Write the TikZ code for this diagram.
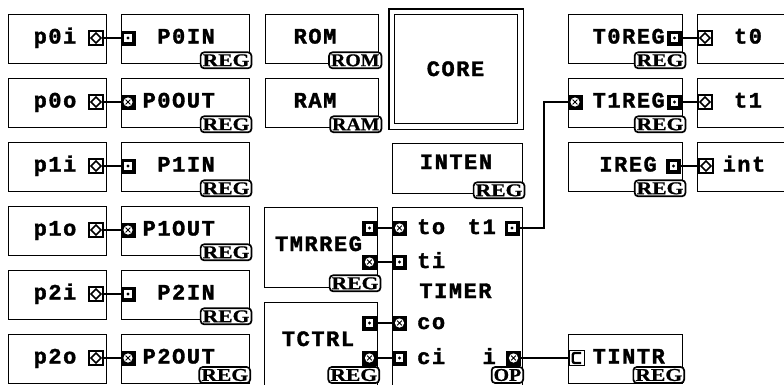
\documentclass[tikz,border=0pt]{standalone}
\usepackage{fontspec}
\usepackage{graphicx}
\newfontfamily\monob[LetterSpace=7, BoldFeatures={FakeBold=1.6}]{Liberation Mono}
\newfontfamily\serifb[BoldFeatures={FakeBold=0.8}]{Liberation Serif}
\tikzset{
  box/.style={draw, line width=1.3pt, anchor=north west, inner sep=0pt, fill=white},
  lbl/.style={font=\monob\bfseries\fontsize{22}{22}\selectfont, inner sep=0pt},
  tag/.style={draw, line width=1.7pt, rounded corners=3.5pt, fill=white, inner xsep=2pt, inner ysep=0pt, minimum height=16pt, font=\serifb\bfseries\fontsize{18}{18}\selectfont, anchor=east},
  wire/.style={line width=1.3pt},
  portA/.style={draw, line width=1.3pt, fill=white, minimum size=14pt, inner sep=0pt,
    path picture={\draw[line width=1.7pt] ([xshift=-5pt]path picture bounding box.center) -- ([yshift=5pt]path picture bounding box.center) -- ([xshift=5pt]path picture bounding box.center) -- ([yshift=-5pt]path picture bounding box.center) -- cycle;}},
  portB/.style={draw, line width=1pt, fill=black, minimum size=14pt, inner sep=0pt,
    path picture={\fill[white] ([shift={(-3.8pt,-3.8pt)}]path picture bounding box.center) rectangle ([shift={(3.8pt,3.8pt)}]path picture bounding box.center);
      \fill[black] (path picture bounding box.center) circle (1.7pt);}},
  portC/.style={draw, line width=1pt, fill=black, minimum size=14pt, inner sep=0pt,
    path picture={\fill[white] (path picture bounding box.center) circle (4.6pt);
      \draw[line width=0.8pt] ([shift={(-2.4pt,-2.4pt)}]path picture bounding box.center) -- ([shift={(2.4pt,2.4pt)}]path picture bounding box.center) ([shift={(-2.4pt,2.4pt)}]path picture bounding box.center) -- ([shift={(2.4pt,-2.4pt)}]path picture bounding box.center);}},
  portD/.style={draw, line width=1pt, fill=white, minimum size=15pt, inner sep=0pt,
    path picture={\draw[line width=2.4pt, rounded corners=2pt] ([shift={(4.5pt,5pt)}]path picture bounding box.center) -- ([shift={(-3.8pt,5pt)}]path picture bounding box.center) -- ([shift={(-3.8pt,-5pt)}]path picture bounding box.center) -- ([shift={(4.5pt,-5pt)}]path picture bounding box.center);}},
}
\begin{document}
\begin{tikzpicture}[x=1pt, y=-1pt]
\useasboundingbox (0,0) rectangle (784,384);
\fill[white] (0,0) rectangle (784,384);
\clip (0,0) rectangle (784,384);

% ---------- left column: pins and port registers ----------
% row 0
\node[box, minimum width=98pt, minimum height=49pt] (p0ib) at (8,14) {};
\node[lbl, anchor=base] (p0it) at (55,43.5) {p0i};
\node[portA] (p0ip) at (96,38) {};
\node[box, minimum width=128pt, minimum height=49pt] (P0INb) at (121,14) {};
\node[portB] (P0INp) at (128,38) {};
\node[lbl, anchor=base east] (P0INt) at (215,43.5) {P0IN};
\node[tag] (P0INg) at ([shift={(2pt,4pt)}]P0INb.south east) {\scalebox{1.2}[1]{REG}};
\draw[wire] (p0ip) -- (P0INp);
% row 1
\node[box, minimum width=98pt, minimum height=49pt] (p0ob) at (8,78) {};
\node[lbl, anchor=base] (p0ot) at (55,107.5) {p0o};
\node[portA] (p0op) at (96,102) {};
\node[box, minimum width=128pt, minimum height=49pt] (P0OUTb) at (121,78) {};
\node[portC] (P0OUTp) at (128,102) {};
\node[lbl, anchor=base east] (P0OUTt) at (215,107.5) {P0OUT};
\node[tag] (P0OUTg) at ([shift={(2pt,4pt)}]P0OUTb.south east) {\scalebox{1.2}[1]{REG}};
\draw[wire] (p0op) -- (P0OUTp);
% row 2
\node[box, minimum width=98pt, minimum height=49pt] (p1ib) at (8,142) {};
\node[lbl, anchor=base] (p1it) at (55,171.5) {p1i};
\node[portA] (p1ip) at (96,166) {};
\node[box, minimum width=128pt, minimum height=49pt] (P1INb) at (121,142) {};
\node[portB] (P1INp) at (128,166) {};
\node[lbl, anchor=base east] (P1INt) at (215,171.5) {P1IN};
\node[tag] (P1INg) at ([shift={(2pt,4pt)}]P1INb.south east) {\scalebox{1.2}[1]{REG}};
\draw[wire] (p1ip) -- (P1INp);
% row 3
\node[box, minimum width=98pt, minimum height=49pt] (p1ob) at (8,206) {};
\node[lbl, anchor=base] (p1ot) at (55,235.5) {p1o};
\node[portA] (p1op) at (96,230) {};
\node[box, minimum width=128pt, minimum height=49pt] (P1OUTb) at (121,206) {};
\node[portC] (P1OUTp) at (128,230) {};
\node[lbl, anchor=base east] (P1OUTt) at (215,235.5) {P1OUT};
\node[tag] (P1OUTg) at ([shift={(2pt,4pt)}]P1OUTb.south east) {\scalebox{1.2}[1]{REG}};
\draw[wire] (p1op) -- (P1OUTp);
% row 4
\node[box, minimum width=98pt, minimum height=49pt] (p2ib) at (8,270) {};
\node[lbl, anchor=base] (p2it) at (55,299.5) {p2i};
\node[portA] (p2ip) at (96,294) {};
\node[box, minimum width=128pt, minimum height=49pt] (P2INb) at (121,270) {};
\node[portB] (P2INp) at (128,294) {};
\node[lbl, anchor=base east] (P2INt) at (215,299.5) {P2IN};
\node[tag] (P2INg) at ([shift={(2pt,4pt)}]P2INb.south east) {\scalebox{1.2}[1]{REG}};
\draw[wire] (p2ip) -- (P2INp);
% row 5
\node[box, minimum width=98pt, minimum height=49pt] (p2ob) at (8,334) {};
\node[lbl, anchor=base] (p2ot) at (55,363.5) {p2o};
\node[portA] (p2op) at (96,358) {};
\node[box, minimum width=128pt, minimum height=49pt] (P2OUTb) at (121,334) {};
\node[portC] (P2OUTp) at (128,358) {};
\node[lbl, anchor=base east] (P2OUTt) at (215,363.5) {P2OUT};
\node[tag] (P2OUTg) at (251,375) {\scalebox{1.2}[1]{REG}};
\draw[wire] (p2op) -- (P2OUTp);

% ---------- middle: memories, core ----------
\node[box, minimum width=113pt, minimum height=49pt] (ROMb) at (265,14) {};
\node[lbl, anchor=base] (ROMt) at (315,43.5) {ROM};
\node[tag] (ROMg) at ([shift={(3pt,4pt)}]ROMb.south east) {\scalebox{1.1}[1]{ROM}};
\node[box, minimum width=113pt, minimum height=49pt] (RAMb) at (265,78) {};
\node[lbl, anchor=base] (RAMt) at (315,107.5) {RAM};
\node[tag] (RAMg) at ([shift={(3pt,4pt)}]RAMb.south east) {\scalebox{1.1}[1]{RAM}};

\node[box, minimum width=123pt, minimum height=109pt] (CORE) at (394,14) {};
\draw[line width=1.3pt] ([shift={(-5pt,5pt)}]CORE.north west) rectangle ([shift={(5pt,-5pt)}]CORE.south east);
\node[lbl, anchor=base] (COREt) at (455.5,76) {CORE};

\node[box, minimum width=130pt, minimum height=50pt] (INTENb) at (392,143) {};
\node[lbl, anchor=base] (INTENt) at (456,169) {INTEN};
\node[tag] (INTENg) at ([shift={(2pt,4pt)}]INTENb.south east) {\scalebox{1.2}[1]{REG}};

% ---------- timer group ----------
\node[box, minimum width=113pt, minimum height=80pt] (TMRb) at (264,207) {};
\node[lbl, anchor=base] (TMRt) at (318.5,251) {TMRREG};
\node[portB] (TMRto) at (369.5,228) {};
\node[portC] (TMRti) at (369.5,262) {};
\node[tag] (TMRg) at ([shift={(3pt,5pt)}]TMRb.south east) {\scalebox{1.2}[1]{REG}};

\node[box, minimum width=113pt, minimum height=90pt] (TCTb) at (264,302) {};
\node[lbl, anchor=base] (TCTt) at (318,346) {TCTRL};
\node[portB] (TCTco) at (369.5,323) {};
\node[portC] (TCTci) at (369.5,358) {};
\node[tag] (TCTg) at (380,375) {\scalebox{1.2}[1]{REG}};

\node[box, minimum width=130pt, minimum height=190pt] (TIMb) at (392,207) {};
\node[lbl, anchor=base] (TIMt) at (455.5,298) {TIMER};
\node[portC] (TIMto) at (399.5,228) {};
\node[portB] (TIMti) at (399.5,262) {};
\node[portC] (TIMco) at (399.5,323) {};
\node[portB] (TIMci) at (399.5,358) {};
\node[portB] (TIMt1) at (512,228) {};
\node[portC] (TIMi) at (513.5,358) {};
\node[lbl, anchor=base west] (TIMtot) at (417,234) {to};
\node[lbl, anchor=base east] (TIMt1t) at (496,234) {t1};
\node[lbl, anchor=base west] (TIMtit) at (417,268) {ti};
\node[lbl, anchor=base west] (TIMcot) at (417,329) {co};
\node[lbl, anchor=base west] (TIMcit) at (417,364) {ci};
\node[lbl, anchor=base east] (TIMit) at (496,364) {i};
\node[tag] (TIMg) at (524,375) {\scalebox{1.1}[1]{OP}};

\draw[wire] (TMRto) -- (TIMto);
\draw[wire] (TMRti) -- (TIMti);
\draw[wire] (TCTco) -- (TIMco);
\draw[wire] (TCTci) -- (TIMci);

% ---------- right column ----------
\node[box, minimum width=114pt, minimum height=49pt] (T0Rb) at (568,14) {};
\node[lbl, anchor=base east] (T0Rt) at (665,43.5) {T0REG};
\node[portB] (T0Rp) at (674.5,38) {};
\node[tag] (T0Rg) at ([shift={(3pt,4pt)}]T0Rb.south east) {\scalebox{1.2}[1]{REG}};
\node[box, minimum width=100pt, minimum height=49pt] (t0b) at (697,14) {};
\node[portA] (t0p) at (705,38) {};
\node[lbl, anchor=base] (t0t) at (748,43.5) {t0};
\draw[wire] (T0Rp) -- (t0p);

\node[box, minimum width=114pt, minimum height=49pt] (T1Rb) at (568,78) {};
\node[portC] (T1Rin) at (575,102) {};
\node[lbl, anchor=base east] (T1Rt) at (665,107.5) {T1REG};
\node[portB] (T1Rp) at (674.5,102) {};
\node[tag] (T1Rg) at ([shift={(3pt,4pt)}]T1Rb.south east) {\scalebox{1.2}[1]{REG}};
\node[box, minimum width=100pt, minimum height=49pt] (t1b) at (697,78) {};
\node[portA] (t1p) at (705,102) {};
\node[lbl, anchor=base] (t1t) at (748,107.5) {t1};
\draw[wire] (T1Rp) -- (t1p);

\node[box, minimum width=114pt, minimum height=49pt] (IRb) at (568,142) {};
\node[lbl, anchor=base east] (IRt) at (657,171.5) {IREG};
\node[portB] (IRp) at (673.5,166) {};
\node[tag] (IRg) at ([shift={(3pt,4pt)}]IRb.south east) {\scalebox{1.2}[1]{REG}};
\node[box, minimum width=100pt, minimum height=49pt] (intb) at (697,142) {};
\node[portA] (intp) at (706,166) {};
\node[lbl, anchor=base] (intt) at (744,171.5) {int};
\draw[wire] (IRp) -- (intp);

\node[box, minimum width=114pt, minimum height=49pt] (TINb) at (568,334) {};
\node[portD] (TINp) at (576.5,358) {};
\node[lbl, anchor=base east] (TINt) at (665,363.5) {TINTR};
\node[tag] (TINg) at (685,375) {\scalebox{1.2}[1]{REG}};

% ---------- long connectors ----------
\coordinate (bend) at (544,228);
\draw[wire] (TIMt1) -- (bend) |- (T1Rin);
\draw[wire] (TIMi) -- (TINp);
\end{tikzpicture}
\end{document}
